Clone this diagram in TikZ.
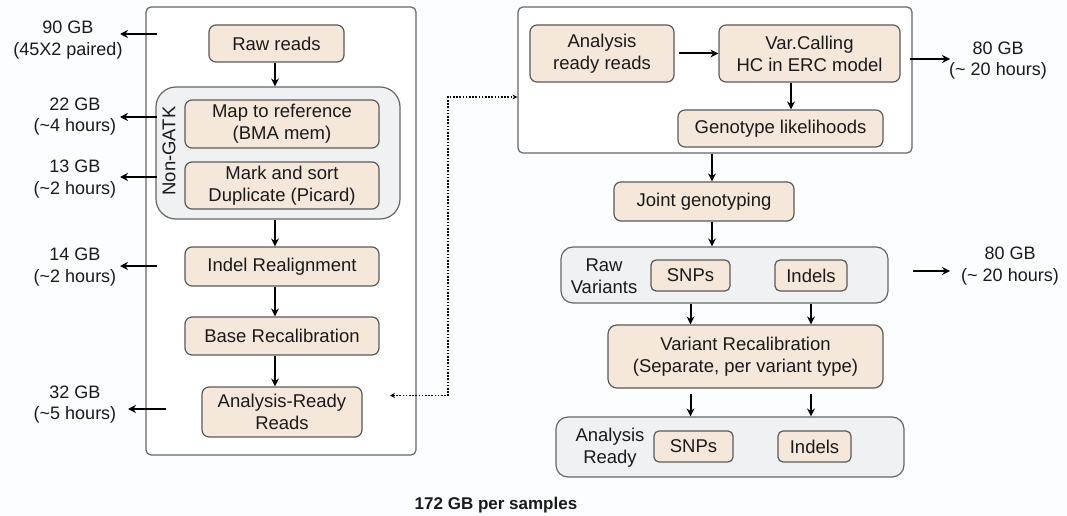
\documentclass[tikz,border=0pt]{standalone}
\usepackage{fontspec}
\setmainfont{Liberation Sans}
\usetikzlibrary{arrows.meta}
\definecolor{boxfill}{HTML}{F5E8DA}
\definecolor{boxline}{HTML}{5A5A5A}
\definecolor{grpfill}{HTML}{EFF1F2}
\definecolor{outline}{HTML}{666666}
\definecolor{txt}{HTML}{1A1A1A}
\definecolor{bg}{HTML}{FCFDFE}
\tikzset{
  stepbox/.style={draw=boxline, line width=1.2pt, fill=boxfill, rounded corners=7pt,
    align=center, inner sep=0pt, text=txt, font=\fontsize{18.5}{22}\selectfont},
  grpbox/.style={draw=outline, line width=1.2pt, fill=grpfill, rounded corners=14pt, inner sep=0pt},
  outerbox/.style={draw=outline, line width=1.2pt, fill=white, rounded corners=5pt, inner sep=0pt},
  lbl/.style={align=center, inner sep=0pt, text=txt, font=\fontsize{18}{21.5}\selectfont},
  arr/.style={line width=2pt, draw=black, -{Stealth[length=8pt,width=8pt]}},
  dotarr/.style={line width=1.8pt, dash pattern=on 1.6pt off 1.6pt, draw=black, {Stealth[length=5pt,width=5pt]}-{Stealth[length=5pt,width=5pt]}},
}
\begin{document}
\begin{tikzpicture}[x=1pt,y=-1pt]
\fill[bg] (0,0) rectangle (1067,516);
\useasboundingbox (0,0) rectangle (1067,516);

% ---------- left block ----------
\node[outerbox, minimum width=270, minimum height=448] (lbox) at (281,231) {};
\node[stepbox, minimum width=135, minimum height=37] (raw) at (276.5,43.5) {Raw reads};
\node[grpbox, rounded corners=20pt, minimum width=244, minimum height=132] (ngatk) at (278,153) {};
\node[lbl, rotate=90, font=\fontsize{18.5}{22}\selectfont] (ngl) at (169,151) {Non-GATK};
\node[stepbox, minimum width=194, minimum height=48] (map) at (282,124) {Map to reference\\(BMA mem)};
\node[stepbox, minimum width=194, minimum height=47] (mark) at (282,185.5) {Mark and sort\\Duplicate (Picard)};
\node[stepbox, minimum width=194, minimum height=39] (indel) at (282,266.5) {Indel Realignment};
\node[stepbox, minimum width=194, minimum height=38] (base) at (282,336) {Base Recalibration};
\node[stepbox, minimum width=160, minimum height=50] (ard) at (282,412) {Analysis-Ready\\Reads};

\draw[arr] (raw.south -| 275,0) -- (ngatk.north -| 275,0);
\draw[arr] (ngatk.south -| 275,0) -- (indel.north -| 275,0);
\draw[arr] (indel.south -| 275,0) -- (base.north -| 275,0);
\draw[arr] (base.south -| 275,0) -- (ard.north -| 275,0);

% left labels
\node[lbl] (l1) at (68,40) {90 GB\\(45X2 paired)};
\node[lbl] (l2) at (75,116.5) {22 GB\\(\textasciitilde4 hours)};
\node[lbl] (l3) at (75,179) {13 GB\\(\textasciitilde2 hours)};
\node[lbl] (l4) at (75,267) {14 GB\\(\textasciitilde2 hours)};
\node[lbl] (l5) at (75,404.5) {32 GB\\(\textasciitilde5 hours)};
\coordinate (s1) at (157,34);  \coordinate (e1) at (120,34);
\coordinate (s2) at (157,117); \coordinate (e2) at (120,117);
\coordinate (s3) at (157,177); \coordinate (e3) at (120,177);
\coordinate (s4) at (157,266); \coordinate (e4) at (120,266);
\coordinate (s5) at (166,409); \coordinate (e5) at (128,409);
\draw[arr] (s1) -- (e1);
\draw[arr] (s2) -- (e2);
\draw[arr] (s3) -- (e3);
\draw[arr] (s4) -- (e4);
\draw[arr] (s5) -- (e5);

% ---------- right top block ----------
\node[outerbox, minimum width=394, minimum height=146] (rbox) at (715,80) {};
\node[stepbox, minimum width=144, minimum height=57] (arr2) at (602,53.5) {Analysis\\ready reads};
\node[stepbox, minimum width=181, minimum height=57] (vc) at (809.5,53.5) {Var.Calling\\HC in ERC model};
\node[stepbox, minimum width=205, minimum height=37] (gl) at (780.5,128.5) {Genotype likelihoods};
\draw[arr, shorten <=4pt] (arr2.east) -- (vc.west);
\draw[arr] (vc.south -| 791,0) -- (gl.north -| 791,0);

\node[lbl] (r1) at (998,60.5) {80 GB\\(\textasciitilde{} 20 hours)};
\coordinate (s6) at (910,59); \coordinate (e6) at (950,59);
\draw[arr] (s6) -- (e6);

% dotted link
\coordinate (dl) at (390,395.5);
\coordinate (dc1) at (448,395.5);
\coordinate (dc2) at (448,97);
\draw[dotarr] (dl) -- (dc1) -- (dc2) -- (rbox.west |- dc2);

% ---------- right lower ----------
\node[stepbox, minimum width=180, minimum height=39] (jg) at (704,201.5) {Joint genotyping};
\draw[arr] (rbox.south -| 712,0) -- (jg.north -| 712,0);

\node[grpbox, rounded corners=12pt, minimum width=327, minimum height=56] (rv) at (724.5,275) {};
\node[lbl, font=\fontsize{18.5}{22}\selectfont] (rvl) at (604,276) {Raw\\Variants};
\node[stepbox, minimum width=79, minimum height=31, rounded corners=5pt] (snp1) at (690.5,275.5) {SNPs};
\node[stepbox, minimum width=72, minimum height=31, rounded corners=5pt] (ind1) at (811,275.5) {Indels};
\draw[arr] (jg.south -| 712,0) -- (rv.north -| 712,0);

\node[stepbox, minimum width=275, minimum height=63, rounded corners=9pt] (vr) at (745.5,356.5) {Variant Recalibration\\(Separate, per variant type)};
\draw[arr] (rv.south -| snp1) -- (vr.north -| snp1);
\draw[arr] (rv.south -| ind1) -- (vr.north -| ind1);

\node[grpbox, rounded corners=12pt, minimum width=348, minimum height=60] (ar) at (730,447) {};
\node[lbl, font=\fontsize{18.5}{22}\selectfont] (arl) at (610,447.5) {Analysis\\Ready};
\node[stepbox, minimum width=79, minimum height=31, rounded corners=5pt] (snp2) at (693.5,446.5) {SNPs};
\node[stepbox, minimum width=73, minimum height=31, rounded corners=5pt] (ind2) at (814.5,446.5) {Indels};
\draw[arr, shorten <=5pt] (vr.south -| snp1) -- (ar.north -| snp1);
\draw[arr, shorten <=5pt] (vr.south -| ind1) -- (ar.north -| ind1);

\node[lbl] (r2) at (1010,266) {80 GB\\(\textasciitilde{} 20 hours)};
\coordinate (s7) at (913,271); \coordinate (e7) at (950,271);
\draw[arr] (s7) -- (e7);

\node[lbl, font=\fontsize{17}{20}\selectfont\bfseries] (tot) at (496,505) {172 GB per samples};
\end{tikzpicture}
\end{document}
